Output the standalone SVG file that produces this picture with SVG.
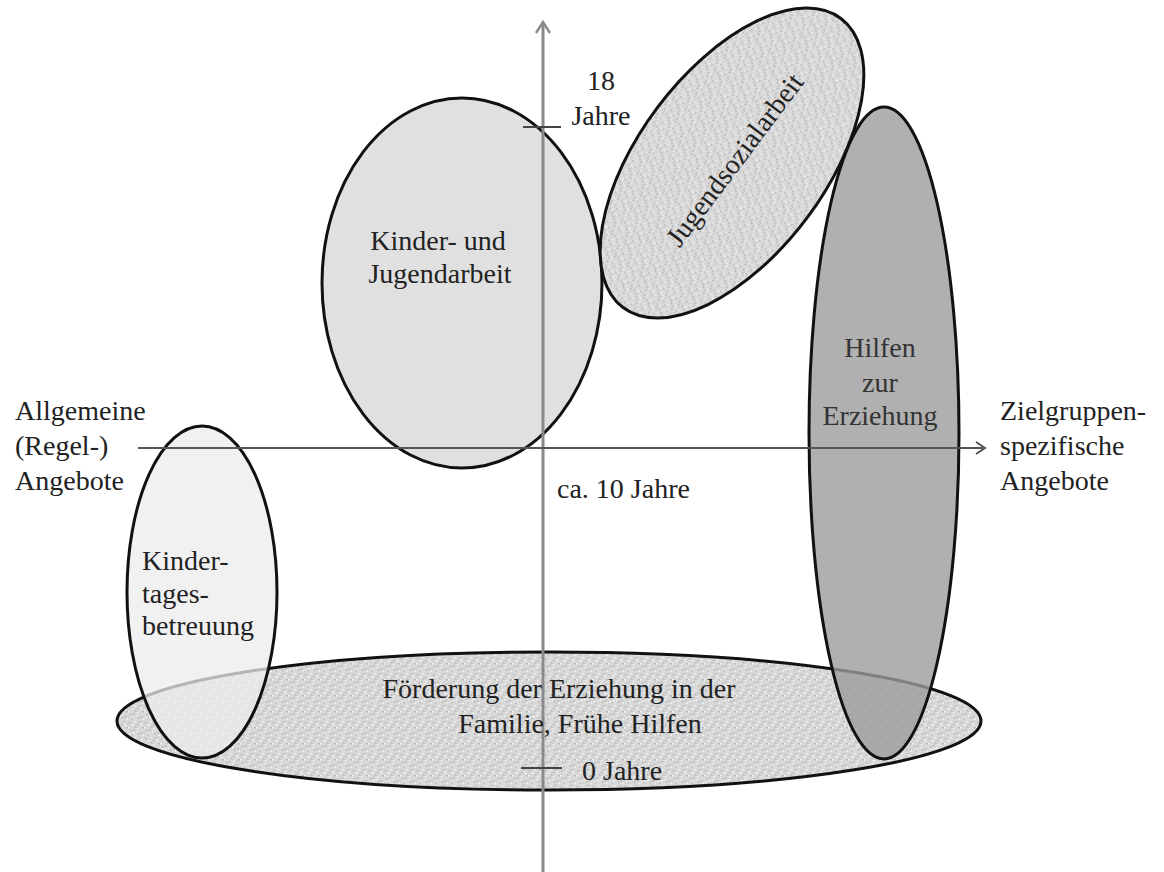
<svg xmlns="http://www.w3.org/2000/svg" width="1164" height="872" viewBox="0 0 1164 872">
<defs>
<pattern id="speckle" width="16" height="16" patternUnits="userSpaceOnUse">
<rect width="16" height="16" fill="#d8d8d8"/>
<g fill="#b4b4b4">
<rect x="1" y="2" width="1.5" height="1.5"/><rect x="5" y="9" width="1.5" height="1.5"/>
<rect x="9" y="4" width="1.5" height="1.5"/><rect x="13" y="12" width="1.5" height="1.5"/>
<rect x="3" y="14" width="1.5" height="1.5"/><rect x="11" y="1" width="1.5" height="1.5"/>
<rect x="7" y="6" width="1.5" height="1.5"/><rect x="14" y="7" width="1.5" height="1.5"/>
<rect x="2" y="10" width="1.5" height="1.5"/><rect x="10" y="13" width="1.5" height="1.5"/>
</g>
<g fill="#f2f2f2">
<rect x="4" y="4" width="1.5" height="1.5"/><rect x="8" y="11" width="1.5" height="1.5"/>
<rect x="12" y="3" width="1.5" height="1.5"/><rect x="0" y="7" width="1.5" height="1.5"/>
<rect x="6" y="1" width="1.5" height="1.5"/><rect x="14.5" y="14.5" width="1.5" height="1.5"/>
<rect x="9" y="8" width="1.5" height="1.5"/><rect x="2" y="13" width="1.5" height="1.5"/>
<rect x="13" y="5" width="1.5" height="1.5"/><rect x="5" y="12" width="1.5" height="1.5"/>
</g>
</pattern>
<marker id="arr" markerWidth="14" markerHeight="14" refX="11" refY="7" orient="auto" markerUnits="userSpaceOnUse">
<path d="M2,1 L11,7 L2,13" fill="none" stroke="#555" stroke-width="2"/>
</marker>
<marker id="arrv" markerWidth="16" markerHeight="16" refX="13" refY="8" orient="auto" markerUnits="userSpaceOnUse">
<path d="M2,1 L13,8 L2,15" fill="none" stroke="#8a8a8a" stroke-width="2.5"/>
</marker>
</defs>
<rect width="1164" height="872" fill="#fff"/>

<g id="foerderung">
<ellipse cx="549" cy="721" rx="432" ry="69" fill="url(#speckle)" stroke="#111" stroke-width="3"/>
</g>
<g id="kita">
<ellipse cx="202" cy="592" rx="75" ry="166" fill="#ececec" fill-opacity="0.75" stroke="#111" stroke-width="3"/>
</g>
<g id="kinder-jugendarbeit">
<ellipse cx="462" cy="283" rx="140" ry="185" fill="#e0e0e0" stroke="#111" stroke-width="3"/>
</g>
<g id="jugendsozialarbeit">
<ellipse cx="732" cy="163" rx="181" ry="93" transform="rotate(-53 732 163)" fill="url(#speckle)" stroke="#111" stroke-width="3"/>
</g>
<g id="hilfen">
<ellipse cx="884" cy="433" rx="75" ry="326" fill="#9c9c9c" fill-opacity="0.8" stroke="#111" stroke-width="3"/>
</g>

<g id="connectors">
<line x1="543" y1="872" x2="543" y2="22" stroke="#8a8a8a" stroke-width="3" marker-end="url(#arrv)"/>
<line x1="138" y1="448" x2="985" y2="448" stroke="#555" stroke-width="2" marker-end="url(#arr)"/>
<line x1="523" y1="127" x2="561" y2="127" stroke="#444" stroke-width="2"/>
<line x1="521" y1="768" x2="562" y2="768" stroke="#444" stroke-width="2"/>
</g>

<g id="labels" font-family="Times New Roman, Liberation Serif, serif" font-size="28" fill="#222">
<text x="601" y="90" text-anchor="middle">18</text>
<text x="601" y="125" text-anchor="middle">Jahre</text>
<text x="438" y="250" text-anchor="middle">Kinder- und</text>
<text x="440" y="283" text-anchor="middle">Jugendarbeit</text>
<text x="0" y="9" transform="translate(735,160) rotate(-53)" text-anchor="middle">Jugendsozialarbeit</text>
<text x="880" y="357" text-anchor="middle" fill="#333">Hilfen</text>
<text x="880" y="392" text-anchor="middle" fill="#333">zur</text>
<text x="880" y="425" text-anchor="middle" fill="#333">Erziehung</text>
<text x="1000" y="420">Zielgruppen-</text>
<text x="1000" y="455">spezifische</text>
<text x="1000" y="490">Angebote</text>
<text x="15" y="420">Allgemeine</text>
<text x="15" y="455">(Regel-)</text>
<text x="15" y="490">Angebote</text>
<text x="557" y="498">ca. 10 Jahre</text>
<text x="142" y="570">Kinder-</text>
<text x="142" y="603">tages-</text>
<text x="142" y="635">betreuung</text>
<text x="559" y="698" text-anchor="middle">Förderung der Erziehung in der</text>
<text x="580" y="733" text-anchor="middle">Familie, Frühe Hilfen</text>
<text x="582" y="780">0 Jahre</text>
</g>
</svg>
